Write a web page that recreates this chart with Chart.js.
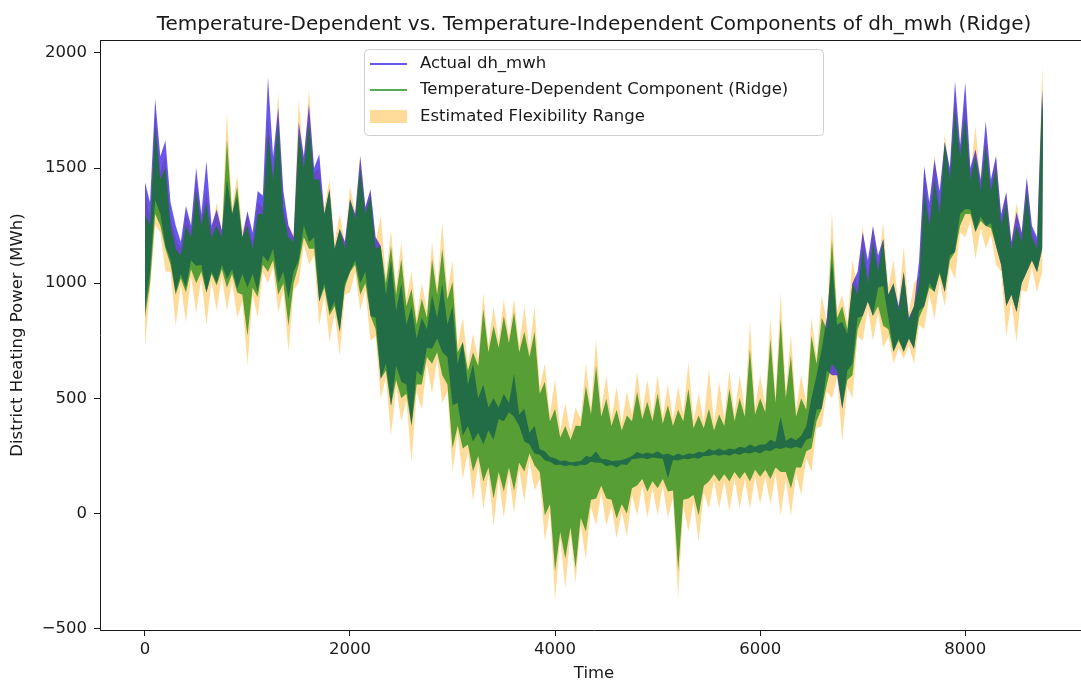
<!DOCTYPE html>
<html>
<head>
<meta charset="utf-8">
<script src="https://cdn.jsdelivr.net/npm/chart.js@4.4.1/dist/chart.umd.min.js"></script>
<style>
  html, body { margin: 0; padding: 0; background: #fff; overflow: hidden; }
  #wrap { width: 1090px; height: 684px; }
</style>
</head>
<body>
<div id="wrap"><canvas id="chart" width="1090" height="684"></canvas></div>
<script>
// hourly series are too dense to read point by point, so each one is kept as
// its upper / lower envelope, every 50 hours
const STEP = 50;

const actualHigh = [
  1440, 1350, 1800, 1550, 1620, 1350, 1250, 1180, 1335, 1250,
  1500, 1300, 1530, 1250, 1320, 1230, 1450, 1300, 1380, 1200,
  1313, 1220, 1400, 1380, 1893, 1550, 1763, 1400, 1250, 1200,
  1699, 1550, 1777, 1500, 1560, 1300, 1408, 1150, 1235, 1180,
  1365, 1300, 1551, 1330, 1408, 1200, 1161, 950, 1100, 880,
  1000, 820, 900, 760, 850, 800, 950, 850, 1000, 820,
  900, 650, 745, 560, 650, 500, 560, 460, 500, 460,
  520, 480, 607, 430, 455, 350, 380, 280, 270, 245,
  240, 228, 230, 222, 225, 228, 250, 245, 270, 238,
  235, 228, 230, 232, 240, 250, 268, 258, 265, 258,
  270, 255, 260, 250, 260, 252, 260, 258, 268, 265,
  280, 272, 282, 272, 282, 278, 290, 285, 300, 290,
  300, 300, 320, 310, 420, 315, 330, 318, 338, 380,
  500, 600, 715, 850, 1100, 820, 832, 780, 1000, 1050,
  1222, 1100, 1248, 1120, 1192, 950, 1000, 900, 1049, 850,
  900, 1100, 1508, 1350, 1538, 1400, 1612, 1500, 1876, 1600,
  1872, 1500, 1582, 1450, 1703, 1450, 1551, 1300, 1395, 1180,
  1309, 1220, 1460, 1250, 1200, 1842, 1720
];
const actualLow = [
  880, 1050, 1360, 1300, 1160, 1100, 960, 1040, 980, 1100,
  1075, 1080, 960, 1050, 1000, 1080, 1018, 1060, 975, 1040,
  980, 1040, 962, 1120, 1092, 1150, 1000, 1050, 932, 1050,
  1100, 1250, 1179, 1200, 919, 1000, 875, 920, 789, 1000,
  1049, 1100, 1000, 1050, 858, 850, 585, 650, 468, 640,
  572, 560, 381, 620, 598, 720, 715, 760, 700, 680,
  470, 480, 338, 380, 312, 350, 300, 360, 320, 410,
  400, 440, 420, 380, 312, 300, 260, 255, 230, 225,
  210, 212, 205, 210, 205, 212, 210, 225, 220, 220,
  205, 210, 200, 214, 210, 235, 238, 242, 235, 243,
  240, 238, 152, 232, 230, 238, 235, 242, 238, 250,
  250, 256, 251, 256, 251, 260, 255, 264, 260, 268,
  260, 274, 270, 284, 280, 288, 282, 290, 282, 320,
  330, 450, 455, 620, 600, 600, 455, 620, 650, 850,
  858, 920, 858, 980, 988, 850, 702, 760, 702, 760,
  715, 880, 900, 1000, 962, 1050, 962, 1120, 1135, 1300,
  1322, 1320, 1222, 1290, 1248, 1260, 1161, 1080, 901, 950,
  875, 1000, 1049, 1100, 1049, 1150, 1680
];

const tempHigh = [
  1300, 1250, 1680, 1450, 1500, 1250, 1150, 1120, 1250, 1200,
  1400, 1250, 1350, 1200, 1250, 1200, 1625, 1300, 1420, 1200,
  1250, 1150, 1300, 1300, 1650, 1450, 1700, 1300, 1200, 1180,
  1650, 1500, 1700, 1450, 1450, 1300, 1408, 1150, 1235, 1150,
  1365, 1280, 1500, 1300, 1380, 1150, 1161, 1000, 1161, 950,
  1105, 900, 975, 820, 932, 850, 1105, 950, 1148, 930,
  1005, 700, 745, 620, 700, 640, 888, 700, 815, 720,
  858, 740, 875, 700, 789, 680, 789, 520, 572, 400,
  455, 330, 380, 320, 381, 380, 555, 430, 641, 420,
  498, 380, 450, 360, 425, 400, 529, 410, 485, 400,
  520, 390, 470, 380, 450, 400, 542, 370, 425, 370,
  455, 360, 430, 380, 542, 400, 500, 420, 715, 430,
  500, 440, 758, 480, 845, 500, 685, 420, 500, 450,
  771, 650, 850, 800, 1192, 850, 900, 800, 1000, 950,
  1150, 1000, 1180, 1050, 1192, 950, 1000, 880, 1049, 840,
  900, 1000, 1400, 1250, 1450, 1300, 1612, 1450, 1755, 1550,
  1725, 1450, 1550, 1400, 1600, 1400, 1500, 1250, 1350, 1150,
  1250, 1180, 1400, 1200, 1150, 1811, 1720
];
const tempLow = [
  850, 1000, 1300, 1250, 1150, 1080, 950, 1020, 960, 1060,
  1000, 1050, 960, 1040, 990, 1060, 980, 1040, 960, 950,
  771, 980, 940, 1080, 1050, 1100, 950, 1000, 815, 1000,
  1080, 1200, 1150, 1150, 919, 980, 860, 900, 789, 980,
  1049, 1080, 950, 1000, 858, 800, 585, 620, 468, 580,
  500, 520, 381, 560, 560, 680, 650, 700, 600, 560,
  282, 380, 282, 300, 182, 250, 139, 200, 65, 180,
  95, 200, 100, 220, 182, 260, 208, 180, -9, 40,
  -251, -80, -195, -60, -238, -20, -78, 60, 65, 120,
  65, 60, -22, 40, 0, 110, 121, 150, 95, 140,
  110, 150, 95, 100, -251, 60, 65, 80, -9, 120,
  139, 170, 139, 170, 139, 180, 150, 180, 139, 190,
  160, 190, 150, 200, 180, 180, 108, 200, 200, 270,
  282, 400, 455, 560, 650, 620, 455, 580, 600, 800,
  858, 920, 858, 900, 815, 800, 702, 750, 702, 760,
  715, 850, 900, 980, 962, 1040, 962, 1100, 1135, 1250,
  1300, 1300, 1222, 1270, 1248, 1240, 1161, 1080, 901, 950,
  875, 1000, 1049, 1100, 1049, 1150, 1700
];

const flexHigh = [
  1400, 1280, 1750, 1480, 1560, 1280, 1200, 1150, 1300, 1230,
  1450, 1280, 1400, 1230, 1350, 1230, 1740, 1330, 1470, 1230,
  1300, 1180, 1350, 1330, 1720, 1480, 1828, 1330, 1250, 1210,
  1798, 1530, 1842, 1480, 1500, 1330, 1450, 1180, 1300, 1180,
  1420, 1310, 1560, 1330, 1400, 1180, 1291, 1030, 1230, 980,
  1180, 930, 1050, 850, 1000, 880, 1180, 980, 1265, 960,
  1100, 730, 850, 650, 780, 670, 960, 730, 900, 750,
  930, 770, 932, 730, 900, 710, 901, 550, 650, 430,
  585, 360, 480, 350, 460, 410, 650, 460, 758, 450,
  600, 410, 550, 390, 530, 430, 615, 440, 580, 430,
  600, 420, 560, 410, 550, 430, 658, 400, 520, 400,
  628, 390, 572, 410, 620, 430, 600, 450, 832, 460,
  600, 470, 850, 510, 962, 530, 780, 450, 600, 480,
  850, 680, 950, 830, 1309, 880, 950, 830, 1100, 980,
  1250, 1030, 1250, 1080, 1261, 980, 1100, 910, 1161, 870,
  1000, 1030, 1500, 1280, 1560, 1330, 1650, 1480, 1820, 1580,
  1800, 1480, 1681, 1430, 1650, 1430, 1560, 1280, 1400, 1180,
  1350, 1210, 1450, 1230, 1180, 1941, 1800
];
const flexLow = [
  720, 970, 1250, 1220, 1050, 1050, 815, 990, 830, 1030,
  870, 1020, 820, 1010, 880, 1030, 880, 1010, 850, 920,
  641, 950, 850, 1050, 1000, 1070, 870, 970, 702, 970,
  1000, 1170, 1080, 1120, 815, 950, 745, 870, 685, 950,
  960, 1050, 880, 970, 750, 770, 498, 590, 338, 550,
  400, 490, 225, 530, 450, 650, 520, 670, 480, 530,
  180, 350, 150, 270, 52, 220, 20, 170, -52, 150,
  -20, 170, 0, 190, 52, 230, 100, 150, -120, 10,
  -377, -110, -325, -90, -300, -50, -200, 30, -52, 90,
  -52, 30, -108, 10, -100, 80, -9, 120, -20, 110,
  -9, 120, -20, 70, -368, 30, -78, 50, -121, 90,
  22, 140, 22, 140, 10, 150, 20, 150, 20, 160,
  40, 160, 40, 170, -9, 150, -9, 170, 80, 240,
  180, 370, 380, 530, 500, 590, 312, 550, 500, 770,
  750, 890, 750, 870, 720, 770, 650, 720, 672, 730,
  650, 820, 800, 950, 845, 1010, 900, 1070, 1018, 1220,
  1200, 1270, 1105, 1240, 1150, 1210, 1080, 1050, 771, 920,
  745, 970, 962, 1070, 960, 1050, 1600
];

const xTicks = [0, 2000, 4000, 6000, 8000];
const yTicks = [-500, 0, 500, 1000, 1500, 2000];
const seriesNames = ['Actual dh_mwh', 'Temperature-Dependent Component (Ridge)', 'Estimated Flexibility Range'];
const chartTitle = 'Temperature-Dependent vs. Temperature-Independent Components of dh_mwh (Ridge)';

const BLUE = 'rgba(24, 0, 230, 0.66)';
const GREEN = 'rgba(0, 128, 0, 0.66)';
const ORANGE = 'rgba(255, 165, 0, 0.4)';
const INK = '#1a1a1a';
const FAMILY = '"DejaVu Sans", sans-serif';

function pts(arr) {
  return arr.map((v, i) => ({ x: Math.min(i * STEP, 8759), y: v }));
}

// lower edge first, upper edge filled down to it
function band(name, low, high, color, order) {
  return [
    { label: name + ' low', data: pts(low), borderColor: 'transparent', borderWidth: 0, fill: false, order: order + 1 },
    { label: name, data: pts(high), borderColor: 'transparent', borderWidth: 0, backgroundColor: color, fill: '-1', order: order }
  ];
}

// title, top spine and a matplotlib style legend box
const decor = {
  id: 'decor',
  afterDraw(chart) {
    const ctx = chart.ctx;
    const a = chart.chartArea;
    ctx.save();

    ctx.strokeStyle = INK;
    ctx.lineWidth = 1;
    ctx.beginPath();
    ctx.moveTo(a.left, Math.round(a.top) + 0.5);
    ctx.lineTo(a.right, Math.round(a.top) + 0.5);
    ctx.stroke();

    ctx.fillStyle = INK;
    ctx.font = '20px ' + FAMILY;
    ctx.textAlign = 'center';
    ctx.textBaseline = 'alphabetic';
    ctx.fillText(chartTitle, (a.left + a.right) / 2, 30);

    const bx = 364, by = 49, bw = 459, bh = 86;
    ctx.fillStyle = 'rgba(255,255,255,0.85)';
    ctx.strokeStyle = '#d0d0d0';
    ctx.beginPath();
    ctx.roundRect(bx + 0.5, by + 0.5, bw, bh, 4);
    ctx.fill();
    ctx.stroke();

    const rows = [64, 90, 117];
    ctx.lineWidth = 2;
    ctx.strokeStyle = BLUE;
    ctx.beginPath(); ctx.moveTo(370, rows[0]); ctx.lineTo(407, rows[0]); ctx.stroke();
    ctx.strokeStyle = GREEN;
    ctx.beginPath(); ctx.moveTo(370, rows[1]); ctx.lineTo(407, rows[1]); ctx.stroke();
    ctx.fillStyle = ORANGE;
    ctx.fillRect(370, rows[2] - 7, 37, 13);

    ctx.fillStyle = INK;
    ctx.font = '16.5px ' + FAMILY;
    ctx.textAlign = 'left';
    ctx.textBaseline = 'middle';
    seriesNames.forEach((s, i) => ctx.fillText(s, 420, rows[i]));
    ctx.restore();
  }
};

const tickFont = { family: FAMILY, size: 16.5 };
const axisLine = { display: true, color: INK, width: 1 };
const tickMarks = { display: true, drawOnChartArea: false, drawTicks: true, tickLength: 6, color: INK };
const fmt = v => (v < 0 ? '\u2212' + Math.abs(v) : String(v));

new Chart(document.getElementById('chart'), {
  type: 'line',
  data: {
    datasets: [
      ...band(seriesNames[1], tempLow, tempHigh, GREEN, 0),
      ...band(seriesNames[0], actualLow, actualHigh, BLUE, 2),
      ...band(seriesNames[2], flexLow, flexHigh, ORANGE, 4)
    ]
  },
  options: {
    responsive: false,
    animation: false,
    events: [],
    elements: {
      point: { radius: 0, hoverRadius: 0 },
      line: { tension: 0 }
    },
    layout: { padding: { left: 0, top: 40, right: 2, bottom: 0 } },
    plugins: {
      legend: { display: false },
      title: { display: false },
      tooltip: { enabled: false },
      filler: { propagate: false }
    },
    scales: {
      x: {
        type: 'linear',
        min: -438,
        max: 9197,
        afterBuildTicks: ax => { ax.ticks = xTicks.map(v => ({ value: v })); },
        afterFit: ax => { ax.height = 54; },
        ticks: { font: tickFont, color: INK, padding: 4, maxRotation: 0, callback: fmt },
        grid: tickMarks,
        border: axisLine,
        title: { display: true, text: 'Time', font: tickFont, color: INK, padding: { top: 0, bottom: 0 } }
      },
      y: {
        min: -506,
        max: 2056,
        afterBuildTicks: ax => { ax.ticks = yTicks.map(v => ({ value: v })); },
        afterFit: ax => { ax.width = 100; },
        ticks: { font: tickFont, color: INK, padding: 7, callback: fmt },
        grid: tickMarks,
        border: axisLine,
        title: { display: true, text: 'District Heating Power (MWh)', font: tickFont, color: INK, padding: { top: 8, bottom: 0 } }
      }
    }
  },
  plugins: [decor]
});
</script>
</body>
</html>
